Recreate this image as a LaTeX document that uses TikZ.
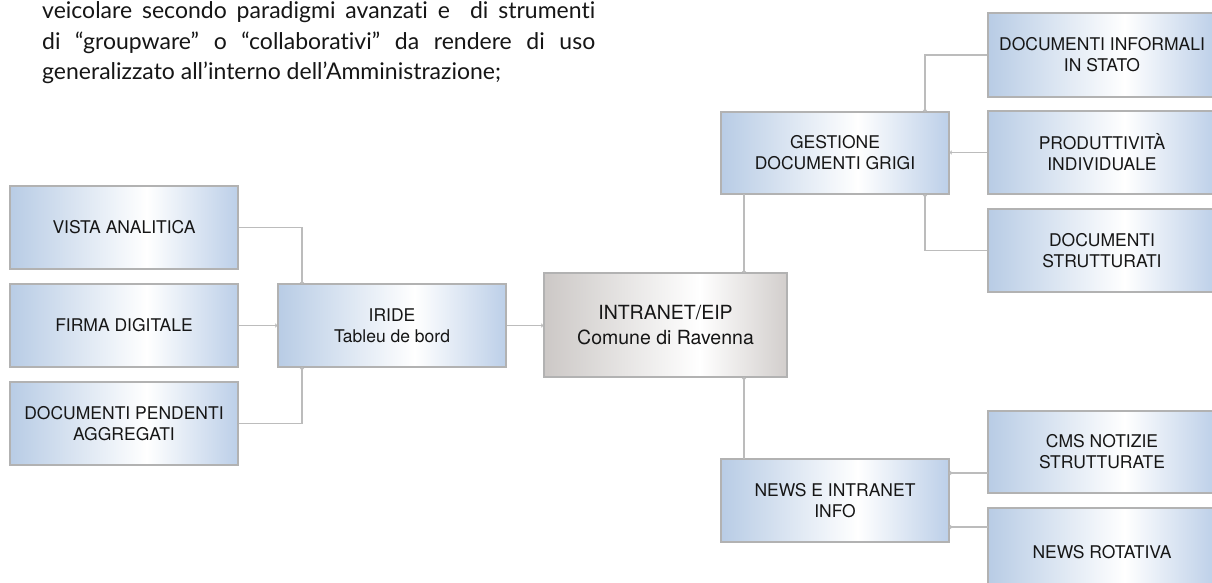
\documentclass[tikz,border=0pt]{standalone}
\usepackage{fontspec}
\setmainfont{TeX Gyre Heros}
\newfontfamily\topfont[Ligatures=NoCommon]{Lato}
\usetikzlibrary{arrows.meta,shadings}
\definecolor{bL}{RGB}{184,204,229}
\definecolor{bR}{RGB}{188,207,232}
\definecolor{gL}{RGB}{204,200,198}
\definecolor{gR}{RGB}{210,206,204}
\definecolor{edgegray}{RGB}{178,178,178}
\definecolor{conncol}{RGB}{188,188,188}
\definecolor{inkcol}{RGB}{22,22,22}
\pgfdeclarehorizontalshading{blueshade}{100bp}{color(0bp)=(bL); color(25bp)=(bL); color(55bp)=(white); color(75bp)=(bR); color(100bp)=(bR)}
\pgfdeclarehorizontalshading{grayshade}{100bp}{color(0bp)=(gL); color(25bp)=(gL); color(57bp)=(white); color(75bp)=(gR); color(100bp)=(gR)}
\tikzset{
  box/.style={rectangle, draw=edgegray, line width=1.2pt, shading=blueshade, inner sep=0pt,
    align=center, text=inkcol, minimum width=228pt, minimum height=83pt,
    font=\fontsize{17.5}{21}\selectfont},
  hub/.style={box, shading=grayshade, minimum width=243pt, minimum height=104pt,
    font=\fontsize{19.5}{25}\selectfont},
  conn/.style={draw=conncol, line width=1.3pt, -{Latex[length=2pt,width=5pt]}},
  topline/.style={anchor=base west, inner sep=0pt, text=inkcol, font=\topfont\fontsize{23}{30}\selectfont}
}
\begin{document}
\begin{tikzpicture}[x=1pt,y=-1pt]
\useasboundingbox (0,0) rectangle (1212,583);
\clip (0,0) rectangle (1212,583);
\fill[white] (0,0) rectangle (1212,583);

% top text
\node[topline] (t1) at (42,19) {\makebox[553pt][s]{veicolare secondo paradigmi avanzati e\ \ di strumenti}};
\node[topline] (t2) at (42,49.5) {\makebox[553pt][s]{di “groupware” o “collaborativi” da rendere di uso}};
\node[topline] (t3) at (42,80) {generalizzato all’interno dell’Amministrazione;};

% left column
\node[box] (va) at (124,227.5) {VISTA ANALITICA};
\node[box] (fd) at (124,325.5) {FIRMA DIGITALE};
\node[box] (dp) at (124,423.5) {DOCUMENTI PENDENTI\\AGGREGATI};
\node[box] (ir) at (392,325.5) {IRIDE\\Tableu de bord};
\node[hub] (in) at (665.5,325) {INTRANET/EIP\\Comune di Ravenna};
\node[box, minimum height=82pt] (gd) at (835,153) {GESTIONE\\DOCUMENTI GRIGI};
\node[box] (ni) at (835,500.5) {NEWS E INTRANET\\INFO};
% right column
\node[box, minimum height=84pt] (di) at (1102,55) {DOCUMENTI INFORMALI\\IN STATO};
\node[box] (pi) at (1102,152.5) {PRODUTTIVITÀ\\INDIVIDUALE};
\node[box] (ds) at (1102,250.5) {DOCUMENTI\\STRUTTURATI};
\node[box, minimum height=82pt] (cm) at (1102,452) {CMS NOTIZIE\\STRUTTURATE};
\node[box, minimum height=88pt] (nr) at (1102,552) {NEWS ROTATIVA};

% connection points
\coordinate (irtop) at (302,284);
\coordinate (irbot) at (302,367);
\coordinate (intop) at (744,273);
\coordinate (inbot) at (744,377);
\coordinate (gdtop) at (925,112);
\coordinate (gdbot) at (925,194);
\coordinate (gdbotL) at (744,194);
\coordinate (nitop) at (744,459);
\coordinate (cmin) at (988,473);
\coordinate (nrin) at (988,527);
\coordinate (niA) at (949,473);
\coordinate (niB) at (949,527);

\draw[conn] (va.east) -| (irtop);
\draw[conn] (fd.east) -- (ir.west);
\draw[conn] (dp.east) -| (irbot);
\draw[conn] (ir.east) -- (ir.east -| in.west);
\draw[conn] (gdbotL) -- (intop);
\draw[conn] (nitop) -- (inbot);
\draw[conn] (di.west) -| (gdtop);
\draw[conn] (pi.west) -- (pi.west -| gd.east);
\draw[conn] (ds.west) -| (gdbot);
\draw[conn] (cmin) -- (niA);
\draw[conn] (nrin) -- (niB);
\end{tikzpicture}
\end{document}
